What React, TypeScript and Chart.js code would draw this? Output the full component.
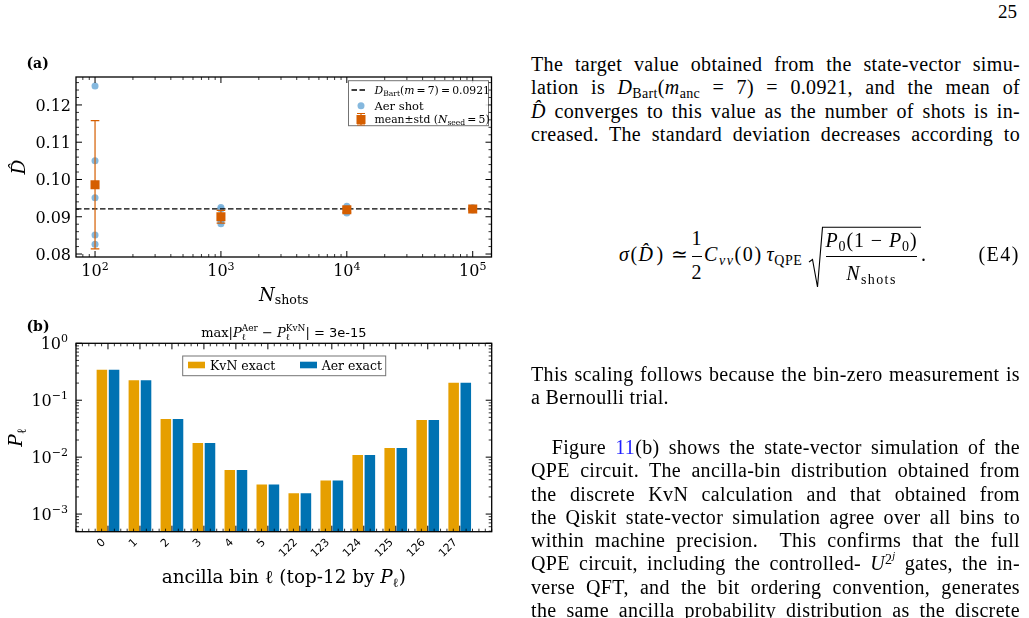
import React, { useEffect, useRef } from "react";
import { Chart, registerables } from "chart.js";

Chart.register(...registerables);

const SERIF = "'DejaVu Serif', serif";
const SANS = "'DejaVu Sans', sans-serif";
const PAGE_FONT = "'Liberation Serif', 'Times New Roman', serif";

// ---------- panel (a): shot-noise estimate of D versus number of shots ----------
const SHOTS = [1e2, 1e3, 1e4, 1e5];
const SHOT_EXP = ["2", "3", "4", "5"];
const D_SEEDS_1E2 = [0.1251, 0.105, 0.0951, 0.0851, 0.0826];
const D_SEEDS_1E3 = [0.0925, 0.0921, 0.0896, 0.0888, 0.0881];
const D_SEEDS_1E4 = [0.0928, 0.0923, 0.0919, 0.0914, 0.091];
const D_SEEDS_1E5 = [0.0924, 0.0922, 0.0921, 0.092, 0.0918];
const D_SEEDS = [D_SEEDS_1E2, D_SEEDS_1E3, D_SEEDS_1E4, D_SEEDS_1E5];
const D_MEAN = [0.0986, 0.09, 0.0919, 0.0921];
const D_STD = [0.0172, 0.0017, 0.0007, 0.0003];
const D_BART = 0.0921;
const A_X_MIN = 70.6;
const A_X_MAX = 141000;
const A_Y_MIN = 0.0792;
const A_Y_MAX = 0.1275;
const A_Y_TICKS = [0.08, 0.09, 0.1, 0.11, 0.12];
const A_Y_TICK_LABELS = ["0.08", "0.09", "0.10", "0.11", "0.12"];

// ---------- panel (b): ancilla-bin probabilities ----------
const BINS = ["0", "1", "2", "3", "4", "5", "122", "123", "124", "125", "126", "127"];
const P_KVN = [0.354, 0.231, 0.0483, 0.0183, 0.00616, 0.0034, 0.0024, 0.004, 0.0113, 0.015, 0.0465, 0.2095];
const P_AER = [0.354, 0.231, 0.0483, 0.0183, 0.00616, 0.0034, 0.0024, 0.004, 0.0113, 0.015, 0.0465, 0.2095];
const B_Y_MIN = 4.9e-4;
const B_Y_MAX = 1;
const B_Y_TICKS = [1e-3, 1e-2, 1e-1, 1];
const B_Y_EXP = ["\u22123", "\u22122", "\u22121", "0"];

const ORANGE = "#D55E00";
const SHOT_BLUE = "rgba(112,172,216,0.85)";
const KVN_COLOR = "#E69F00";
const AER_COLOR = "#0072B2";
const THIN = "\u2009";

type Seg = { t: string; s: number; st?: string; f?: string; dy?: number; stk?: boolean };

function segFont(g: Seg) {
  return `${g.st ? g.st + " " : ""}${g.s}px ${g.f || SERIF}`;
}

function layoutRich(ctx: CanvasRenderingContext2D, segs: Seg[]) {
  const items: { g: Seg; x: number }[] = [];
  let cx = 0;
  let lastStart = 0;
  let lastW = 0;
  for (const g of segs) {
    ctx.font = segFont(g);
    const w = ctx.measureText(g.t).width;
    if (g.stk) {
      items.push({ g, x: lastStart });
      lastW = Math.max(lastW, w);
      cx = lastStart + lastW;
    } else {
      items.push({ g, x: cx });
      lastStart = cx;
      lastW = w;
      cx += w;
    }
  }
  return { items, width: cx };
}

function drawRich(ctx: CanvasRenderingContext2D, segs: Seg[], x: number, y: number, align = "left") {
  const { items, width } = layoutRich(ctx, segs);
  const x0 = align === "center" ? x - width / 2 : align === "right" ? x - width : x;
  ctx.textAlign = "left";
  ctx.textBaseline = "alphabetic";
  for (const { g, x: gx } of items) {
    ctx.font = segFont(g);
    ctx.fillText(g.t, x0 + gx, y + (g.dy || 0));
  }
}

function drawTicks(ctx: CanvasRenderingContext2D, area: any, xs: number[], ys: number[], len: number) {
  ctx.beginPath();
  for (const px of xs) {
    ctx.moveTo(px, area.bottom);
    ctx.lineTo(px, area.bottom - len);
    ctx.moveTo(px, area.top);
    ctx.lineTo(px, area.top + len);
  }
  for (const py of ys) {
    ctx.moveTo(area.left, py);
    ctx.lineTo(area.left + len, py);
    ctx.moveTo(area.right, py);
    ctx.lineTo(area.right - len, py);
  }
  ctx.stroke();
}

const panelA = {
  id: "panelA",
  beforeDatasetDraw(chart: any, args: any) {
    if (args.index !== 0) return;
    const { ctx, scales } = chart;
    const { x, y } = scales;
    ctx.save();
    ctx.strokeStyle = ORANGE;
    ctx.lineWidth = 1.2;
    SHOTS.forEach((s, i) => {
      const px = x.getPixelForValue(s);
      const y1 = y.getPixelForValue(D_MEAN[i] - D_STD[i]);
      const y2 = y.getPixelForValue(D_MEAN[i] + D_STD[i]);
      ctx.beginPath();
      ctx.moveTo(px, y1);
      ctx.lineTo(px, y2);
      ctx.moveTo(px - 4.3, y1);
      ctx.lineTo(px + 4.3, y1);
      ctx.moveTo(px - 4.3, y2);
      ctx.lineTo(px + 4.3, y2);
      ctx.stroke();
    });
    ctx.restore();
  },
  afterDraw(chart: any) {
    const { ctx, chartArea: area, scales } = chart;
    const { x, y } = scales;
    ctx.save();
    ctx.strokeStyle = "#000";
    ctx.fillStyle = "#000";

    const xMaj: number[] = [];
    const xMin: number[] = [];
    for (let d = 1; d <= 5; d++) {
      for (let k = 1; k <= 9; k++) {
        const v = k * Math.pow(10, d);
        if (v < A_X_MIN || v > A_X_MAX) continue;
        (k === 1 ? xMaj : xMin).push(x.getPixelForValue(v));
      }
    }
    const yMaj = A_Y_TICKS.map((v) => y.getPixelForValue(v));
    const yMin: number[] = [];
    for (let i = 39; i <= 64; i++) {
      const v = i * 0.002;
      if (i % 5 === 0 || v < A_Y_MIN || v > A_Y_MAX) continue;
      yMin.push(y.getPixelForValue(v));
    }
    ctx.lineWidth = 1;
    drawTicks(ctx, area, xMaj, yMaj, 6);
    ctx.lineWidth = 0.8;
    drawTicks(ctx, area, xMin, yMin, 3);
    ctx.lineWidth = 1.3;
    ctx.strokeRect(area.left, area.top, area.right - area.left, area.bottom - area.top);

    // tick labels
    A_Y_TICKS.forEach((v, i) => {
      drawRich(ctx, [{ t: A_Y_TICK_LABELS[i], s: 16 }], 71, y.getPixelForValue(v) + 5.8, "right");
    });
    SHOTS.forEach((v, i) => {
      drawRich(ctx, [{ t: "10", s: 16 }, { t: SHOT_EXP[i], s: 11, dy: -6.5 }], x.getPixelForValue(v), 236, "center");
    });

    // axis titles
    drawRich(ctx, [{ t: "N", s: 18, st: "italic" }, { t: "shots", s: 12.6, dy: 3.5 }], (area.left + area.right) / 2, 260.7, "center");
    ctx.save();
    ctx.translate(25, (area.top + area.bottom) / 2);
    ctx.rotate(-Math.PI / 2);
    drawRich(ctx, [{ t: "D\u0302", s: 18.5, st: "italic" }], 0, 0, "center");
    ctx.restore();

    drawRich(ctx, [{ t: "(a)", s: 14, st: "bold" }], 26.5, 28);

    // legend
    const lx = 348.5, ly = 40.7, lw = 140, lh = 45;
    ctx.fillStyle = "rgba(255,255,255,0.85)";
    ctx.fillRect(lx, ly, lw, lh);
    ctx.strokeStyle = "rgba(0,0,0,0.55)";
    ctx.lineWidth = 1;
    ctx.strokeRect(lx, ly, lw, lh);
    ctx.fillStyle = "#000";
    ctx.strokeStyle = "#000";
    ctx.lineWidth = 1.3;
    ctx.setLineDash([5.5, 2.5]);
    ctx.beginPath();
    ctx.moveTo(351.5, 50);
    ctx.lineTo(367, 50);
    ctx.stroke();
    ctx.setLineDash([]);
    drawRich(ctx, [
      { t: "D", s: 10.8, st: "italic" },
      { t: "Bart", s: 7.6, dy: 2.3 },
      { t: "(", s: 10.8 },
      { t: "m", s: 10.8, st: "italic" },
      { t: `${THIN}=${THIN}7)${THIN}=${THIN}0.0921`, s: 10.8 },
    ], 374.5, 54);

    ctx.fillStyle = SHOT_BLUE;
    ctx.beginPath();
    ctx.arc(361, 65.8, 3.5, 0, Math.PI * 2);
    ctx.fill();
    ctx.fillStyle = "#000";
    drawRich(ctx, [{ t: "Aer shot", s: 11.5 }], 374.5, 69.8);

    ctx.strokeStyle = ORANGE;
    ctx.lineWidth = 1.2;
    ctx.beginPath();
    ctx.moveTo(361, 73.5); ctx.lineTo(361, 85);
    ctx.moveTo(357, 73.5); ctx.lineTo(365, 73.5);
    ctx.moveTo(357, 85); ctx.lineTo(365, 85);
    ctx.stroke();
    ctx.fillStyle = ORANGE;
    ctx.fillRect(356.5, 75, 9, 9);
    ctx.fillStyle = "#000";
    drawRich(ctx, [
      { t: "mean\u00b1std (", s: 10.8 },
      { t: "N", s: 10.8, st: "italic" },
      { t: "seed", s: 7.6, dy: 2.3 },
      { t: `${THIN}=${THIN}5)`, s: 10.8 },
    ], 374.5, 83);
    ctx.restore();
  },
};

const panelB = {
  id: "panelB",
  afterDraw(chart: any) {
    const { ctx, chartArea: area, scales } = chart;
    const { x, y } = scales;
    ctx.save();
    ctx.strokeStyle = "#000";
    ctx.fillStyle = "#000";

    const xMaj = BINS.map((_, i) => x.getPixelForValue(i));
    const xMin: number[] = [];
    for (let i = -5; i <= 60; i++) {
      if (i % 5 === 0 && i >= 0 && i <= 55) continue;
      xMin.push(x.getPixelForValue(i * 0.2));
    }
    const yMaj = B_Y_TICKS.map((v) => y.getPixelForValue(v));
    const yMin: number[] = [];
    for (let d = -4; d <= -1; d++) {
      for (let k = 2; k <= 9; k++) {
        const v = k * Math.pow(10, d);
        if (v < B_Y_MIN || v > B_Y_MAX) continue;
        yMin.push(y.getPixelForValue(v));
      }
    }
    ctx.lineWidth = 1;
    drawTicks(ctx, area, xMaj, yMaj, 6);
    ctx.lineWidth = 0.8;
    drawTicks(ctx, area, xMin, yMin, 3);
    ctx.lineWidth = 1.3;
    ctx.strokeRect(area.left, area.top, area.right - area.left, area.bottom - area.top);

    // tick labels
    B_Y_TICKS.forEach((v, i) => {
      drawRich(ctx, [{ t: "10", s: 16 }, { t: B_Y_EXP[i], s: 11, dy: -7 }], 68, y.getPixelForValue(v) + 5.8, "right");
    });
    ctx.font = `11px ${SANS}`;
    ctx.textAlign = "right";
    ctx.textBaseline = "middle";
    BINS.forEach((lab, i) => {
      ctx.save();
      ctx.translate(x.getPixelForValue(i) - 4, area.bottom + 9);
      ctx.rotate(-Math.PI / 4);
      ctx.fillText(lab, 0, 0);
      ctx.restore();
    });

    // axis titles
    drawRich(ctx, [
      { t: "ancilla bin ", s: 18.4 },
      { t: "\u2113", s: 18.4 },
      { t: " (top-12 by ", s: 18.4 },
      { t: "P", s: 18.4, st: "italic" },
      { t: "\u2113", s: 12.8, dy: 3.8 },
      { t: ")", s: 18.4 },
    ], (area.left + area.right) / 2, 264.7, "center");
    ctx.save();
    ctx.translate(22, (area.top + area.bottom) / 2);
    ctx.rotate(-Math.PI / 2);
    drawRich(ctx, [{ t: "P", s: 18.5, st: "italic" }, { t: "\u2113", s: 12.8, dy: 3.5 }], 0, 0, "center");
    ctx.restore();

    // title
    drawRich(ctx, [
      { t: "max", s: 13 },
      { t: "|", s: 13 },
      { t: "P", s: 13, st: "italic" },
      { t: "\u2113", s: 9, dy: 3 },
      { t: "Aer", s: 9, dy: -5.5, stk: true },
      { t: " \u2212 ", s: 13 },
      { t: "P", s: 13, st: "italic" },
      { t: "\u2113", s: 9, dy: 3 },
      { t: "KvN", s: 9, dy: -5.5, stk: true },
      { t: "|", s: 13 },
      { t: " = ", s: 13 },
      { t: "3e-15", s: 13, f: SANS },
    ], (area.left + area.right) / 2, 18.7, "center");

    drawRich(ctx, [{ t: "(b)", s: 14, st: "bold" }], 26.5, 13);

    // legend
    const lx = 182.7, ly = 38, lw = 203, lh = 19.7;
    ctx.fillStyle = "rgba(255,255,255,0.85)";
    ctx.fillRect(lx, ly, lw, lh);
    ctx.strokeStyle = "rgba(0,0,0,0.55)";
    ctx.lineWidth = 1;
    ctx.strokeRect(lx, ly, lw, lh);
    ctx.fillStyle = KVN_COLOR;
    ctx.fillRect(188, 43.7, 17, 6.6);
    ctx.fillStyle = AER_COLOR;
    ctx.fillRect(300, 43.7, 17, 6.6);
    ctx.fillStyle = "#000";
    drawRich(ctx, [{ t: "KvN exact", s: 12.5 }], 210, 51.5);
    drawRich(ctx, [{ t: "Aer exact", s: 12.5 }], 321.7, 51.5);
    ctx.restore();
  },
};

function configA(): any {
  return {
    type: "scatter",
    data: {
      datasets: [
        {
          label: "mean",
          data: SHOTS.map((s, i) => ({ x: s, y: D_MEAN[i] })),
          pointStyle: "rect",
          pointRadius: 6.4,
          backgroundColor: ORANGE,
          borderWidth: 0,
          order: 0,
        },
        {
          label: "D_Bart",
          data: [
            { x: A_X_MIN, y: D_BART },
            { x: A_X_MAX, y: D_BART },
          ],
          showLine: true,
          borderColor: "#000",
          borderWidth: 1.3,
          borderDash: [5.5, 2.5],
          pointRadius: 0,
          order: 1,
        },
        {
          label: "Aer shot",
          data: SHOTS.flatMap((s, i) => D_SEEDS[i].map((v) => ({ x: s, y: v }))),
          pointRadius: 3.5,
          backgroundColor: SHOT_BLUE,
          borderWidth: 0,
          order: 2,
        },
      ],
    },
    options: {
      responsive: false,
      animation: false,
      devicePixelRatio: 1,
      layout: { padding: { left: 76, top: 37, right: 8.5, bottom: 61 } },
      scales: {
        x: { type: "logarithmic", min: A_X_MIN, max: A_X_MAX, display: false },
        y: { type: "linear", min: A_Y_MIN, max: A_Y_MAX, display: false },
      },
      plugins: { legend: { display: false }, tooltip: { enabled: false } },
    },
    plugins: [panelA],
  };
}

function configB(): any {
  const barOpts = { categoryPercentage: 0.76, barPercentage: 1, borderColor: "rgba(255,255,255,0.75)", borderWidth: 0.8 };
  return {
    type: "bar",
    data: {
      datasets: [
        { label: "KvN exact", data: BINS.map((_, i) => ({ x: i, y: P_KVN[i] })), backgroundColor: KVN_COLOR, ...barOpts },
        { label: "Aer exact", data: BINS.map((_, i) => ({ x: i, y: P_AER[i] })), backgroundColor: AER_COLOR, ...barOpts },
      ],
    },
    options: {
      responsive: false,
      animation: false,
      devicePixelRatio: 1,
      layout: { padding: { left: 76, top: 25.3, right: 8.3, bottom: 86.3 } },
      scales: {
        x: { type: "linear", min: -1, max: 12, offset: false, display: false },
        y: { type: "logarithmic", min: B_Y_MIN, max: B_Y_MAX, display: false },
      },
      plugins: { legend: { display: false }, tooltip: { enabled: false } },
    },
    plugins: [panelB],
  };
}

const Sub = ({ children }: any) => (
  <span style={{ fontSize: "0.7em", position: "relative", top: "0.28em" }}>{children}</span>
);
const Sup = ({ children }: any) => (
  <span style={{ fontSize: "0.7em", position: "relative", top: "-0.45em" }}>{children}</span>
);

const LINE_LEFT = 531;
const LINE_WIDTH = 489;
const LINE_STEP = 23.3;
const TEXT_SIZE = 20;

function Line({ base, children, last = false, indent = 0 }: any) {
  return (
    <div
      style={{
        position: "absolute",
        left: LINE_LEFT + indent,
        top: base - 18.4,
        width: LINE_WIDTH - indent,
        font: `${TEXT_SIZE}px/${LINE_STEP}px ${PAGE_FONT}`,
        letterSpacing: "0.35px",
        textAlign: last ? "left" : "justify",
        textAlignLast: last ? "left" : "justify",
        color: "#000",
      } as any}
    >
      {children}
    </div>
  );
}

function At({ x, y, size = 20, align = "left", ls = 0, children }: any) {
  const tx = align === "center" ? "translateX(-50%)" : align === "right" ? "translateX(-100%)" : undefined;
  return (
    <div
      style={{
        position: "absolute",
        left: x,
        top: y - 0.8375 * size,
        font: `${size}px/1 ${PAGE_FONT}`,
        letterSpacing: ls ? `${ls}px` : undefined,
        whiteSpace: "nowrap",
        transform: tx,
        color: "#000",
      }}
    >
      {children}
    </div>
  );
}

export default function App() {
  const refA = useRef<HTMLCanvasElement>(null);
  const refB = useRef<HTMLCanvasElement>(null);

  useEffect(() => {
    const a = new Chart(refA.current as HTMLCanvasElement, configA());
    const b = new Chart(refB.current as HTMLCanvasElement, configB());
    return () => {
      a.destroy();
      b.destroy();
    };
  }, []);

  const p3 = (k: number) => 454.3 + k * LINE_STEP;
  const EQ = 261;

  return (
    <div style={{ position: "fixed", left: 0, top: 0, width: 1029, height: 618, background: "#fff", overflow: "hidden" }}>
      <canvas ref={refA} width={500} height={278} style={{ position: "absolute", left: 0, top: 40 }} />
      <canvas ref={refB} width={500} height={300} style={{ position: "absolute", left: 0, top: 318 }} />

      <At x={1017} y={18} size={19} align="right">25</At>

      <Line base={71.3}>The target value obtained from the state-vector simu-</Line>
      <Line base={71.3 + LINE_STEP}>
        lation is <i>D</i><Sub>Bart</Sub>(<i>m</i><Sub>anc</Sub> = 7) = 0.0921, and the mean of
      </Line>
      <Line base={71.3 + 2 * LINE_STEP}>
        <i>D&#770;</i> converges to this value as the number of shots is in-
      </Line>
      <Line base={71.3 + 3 * LINE_STEP}>creased. The standard deviation decreases according to</Line>

      {/* equation (E4) */}
      <At x={619} y={EQ}><i>σ</i></At>
      <At x={630.5} y={EQ}>(</At>
      <At x={638.5} y={EQ}><i>D&#770;</i></At>
      <At x={656.5} y={EQ}>)</At>
      <At x={671} y={EQ}>≃</At>
      <At x={696.5} y={245} align="center">1</At>
      <div style={{ position: "absolute", left: 692, top: 256, width: 9.5, height: 1, background: "#000" }} />
      <At x={696.5} y={279} align="center">2</At>
      <At x={704} y={EQ} ls={1.6}>
        <i>C</i><Sub><i>vv</i></Sub>(0)
      </At>
      <At x={766.5} y={EQ} ls={0.6}>
        <i>τ</i><Sub>QPE</Sub>
      </At>
      <svg width={1029} height={618} style={{ position: "absolute", left: 0, top: 0, pointerEvents: "none" }}>
        <path d="M809 262 L812.5 259.5 L817.5 287 L822.5 227.3 L921 227.3" fill="none" stroke="#000" strokeWidth={1.1} />
        <line x1={826} y1={256.5} x2={917} y2={256.5} stroke="#000" strokeWidth={1} />
      </svg>
      <At x={871.5} y={247} align="center" ls={0.9}>
        <i>P</i><Sub>0</Sub>(1 − <i>P</i><Sub>0</Sub>)
      </At>
      <At x={871.5} y={280} align="center" ls={1.4}>
        <i>N</i><Sub>shots</Sub>
      </At>
      <At x={921} y={EQ}>.</At>
      <At x={1020} y={EQ} align="right" ls={1.5}>(E4)</At>

      <Line base={381}>This scaling follows because the bin-zero measurement is</Line>
      <Line base={381 + LINE_STEP} last>a Bernoulli trial.</Line>

      <Line base={p3(0)} indent={20.7}>
        Figure <span style={{ color: "#1f1fff" }}>11</span>(b) shows the state-vector simulation of the
      </Line>
      <Line base={p3(1)}>QPE circuit. The ancilla-bin distribution obtained from</Line>
      <Line base={p3(2)}>the discrete KvN calculation and that obtained from</Line>
      <Line base={p3(3)}>the Qiskit state-vector simulation agree over all bins to</Line>
      <Line base={p3(4)}>within machine precision.&nbsp; This confirms that the full</Line>
      <Line base={p3(5)}>
        QPE circuit, including the controlled- <i>U</i>
        <Sup>
          2<span style={{ fontSize: "0.75em", position: "relative", top: "-0.45em" }}><i>j</i></span>
        </Sup>{" "}
        gates, the in-
      </Line>
      <Line base={p3(6)}>verse QFT, and the bit ordering convention, generates</Line>
      <Line base={p3(7)}>the same ancilla probability distribution as the discrete</Line>
    </div>
  );
}
